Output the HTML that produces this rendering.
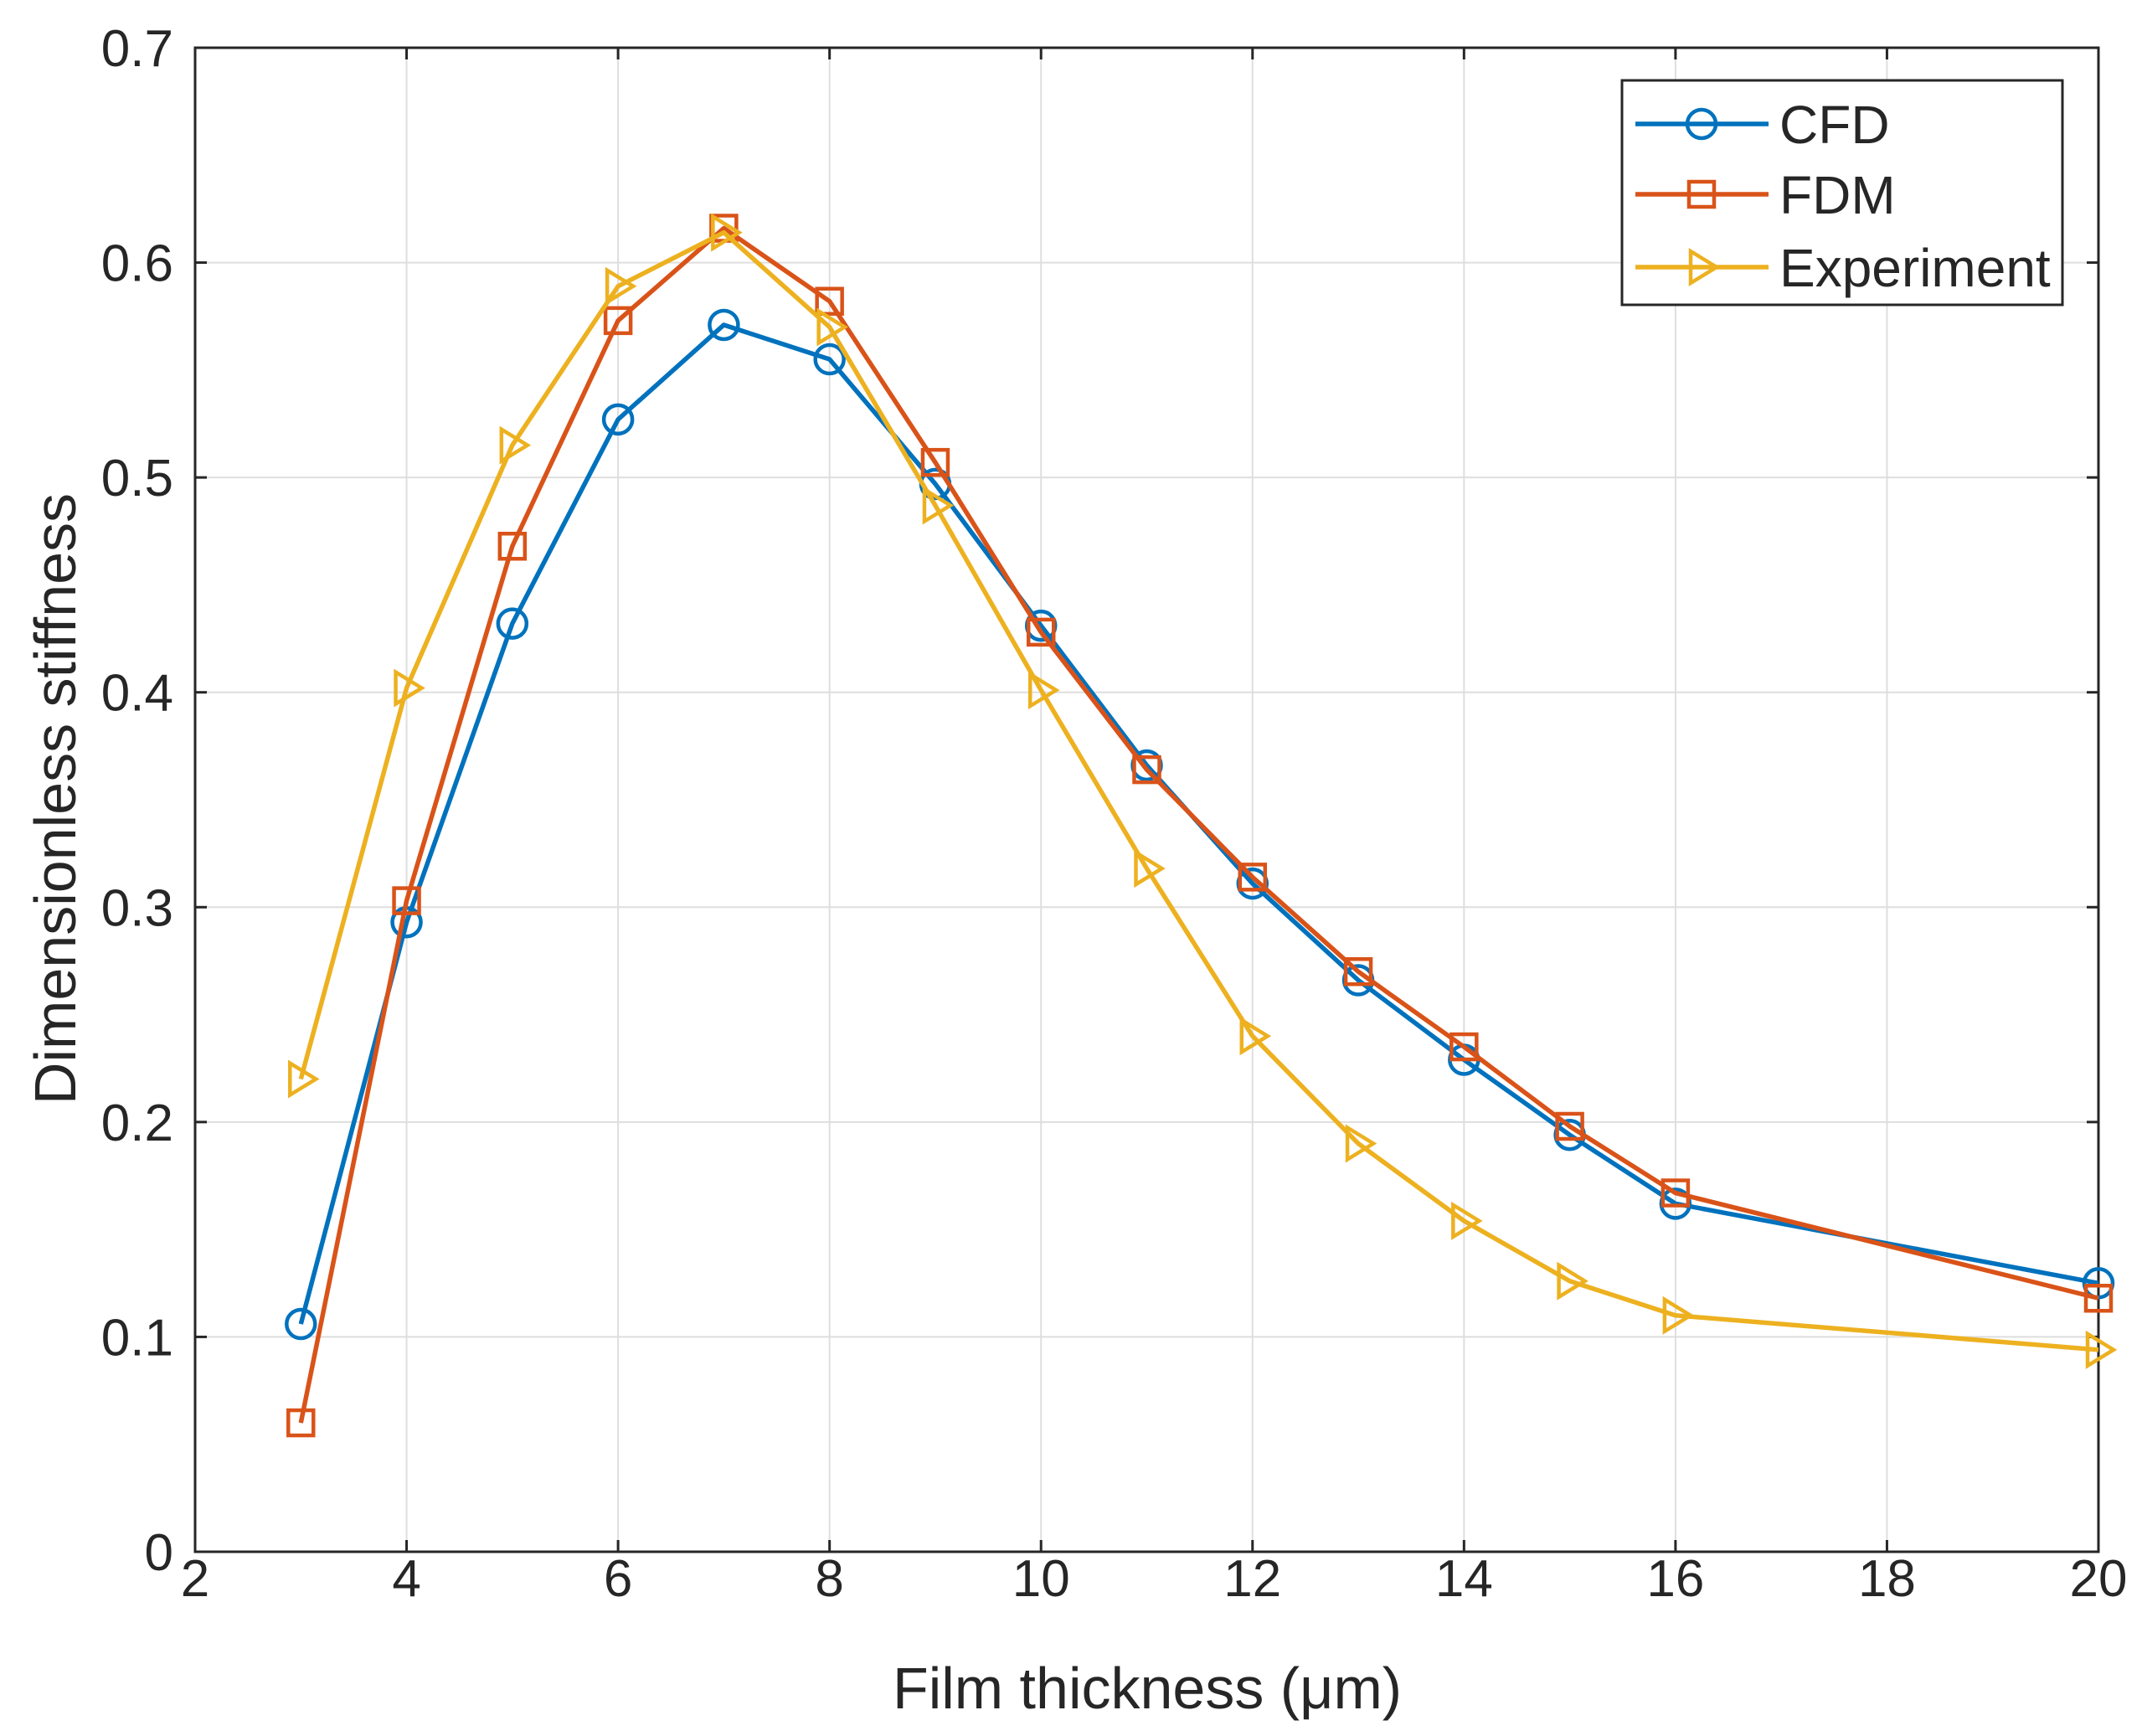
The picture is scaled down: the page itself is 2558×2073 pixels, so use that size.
<!DOCTYPE html>
<html><head><meta charset="utf-8"><style>body{margin:0;background:#fff}svg{display:block}text{font-family:"Liberation Sans",Arial,sans-serif;fill:#262626}</style></head>
<body>
<svg id="chart" width="2558" height="2073" xmlns="http://www.w3.org/2000/svg"></svg>
<script>
const xs=[3,4,5,6,7,8,9,10,11,12,13,14,15,16,20];
const cfd=[0.106,0.293,0.432,0.527,0.571,0.555,0.497,0.431,0.366,0.311,0.266,0.229,0.194,0.162,0.125];
const fdm=[0.06,0.303,0.468,0.573,0.616,0.582,0.507,0.428,0.364,0.314,0.27,0.235,0.198,0.167,0.118];
const exp=[0.22,0.402,0.515,0.589,0.614,0.57,0.487,0.401,0.318,0.24,0.19,0.154,0.126,0.11,0.094];
const xTicks=[2,4,6,8,10,12,14,16,18,20];
const yTicks=[0,0.1,0.2,0.3,0.4,0.5,0.6,0.7];
const L=233,R=2506,T=57,B=1853;
const X=v=>L+(v-2)/18*(R-L), Y=v=>B-v/0.7*(B-T);
const svg=document.getElementById('chart');const NS='http://www.w3.org/2000/svg';
function el(t,a,p){const e=document.createElementNS(NS,t);for(const k in a)e.setAttribute(k,a[k]);(p||svg).appendChild(e);return e;}
xTicks.forEach(t=>{const g=el('line',{x1:X(t),x2:X(t),y1:T,y2:B,stroke:'#dedede','stroke-width':2});

el('line',{x1:X(t),x2:X(t),y1:B,y2:B-14,stroke:'#262626','stroke-width':3});
el('line',{x1:X(t),x2:X(t),y1:T,y2:T+14,stroke:'#262626','stroke-width':3});
const tx=el('text',{x:X(t),y:1906,'font-size':62,'text-anchor':'middle'});tx.textContent=t;
});
yTicks.forEach(t=>{const g=el('line',{x1:L,x2:R,y1:Y(t),y2:Y(t),stroke:'#dedede','stroke-width':2});

el('line',{x1:L,x2:L+14,y1:Y(t),y2:Y(t),stroke:'#262626','stroke-width':3});
el('line',{x1:R,x2:R-14,y1:Y(t),y2:Y(t),stroke:'#262626','stroke-width':3});
const tx=el('text',{x:207,y:Y(t)+22,'font-size':62,'text-anchor':'end'});tx.textContent=t===0?'0':t.toFixed(1);
});
const box=el('rect',{x:L,y:T,width:R-L,height:B-T,fill:'none',stroke:'#262626','stroke-width':3});

function marker(type,cx,cy,c,p){const r=17;let m;
if(type==='o')m=el('circle',{cx,cy,r,fill:'none',stroke:c,'stroke-width':4.5},p);
else if(type==='s')m=el('rect',{x:cx-r+2,y:cy-r+2,width:2*r-4,height:2*r-4,fill:'none',stroke:c,'stroke-width':4.5},p);
else m=el('polygon',{points:`${cx-13},${cy-19} ${cx+18},${cy} ${cx-13},${cy+19}`,fill:'none',stroke:c,'stroke-width':4.5},p);
return m;}
const series=[['cfd',cfd,'#0072BD','o'],['fdm',fdm,'#D95319','s'],['experiment',exp,'#EDB120','t']];
series.forEach(([n,d,c,m])=>{const g=el('g',{});

const pl=el('polyline',{points:xs.map((x,i)=>X(x)+','+Y(d[i])).join(' '),fill:'none',stroke:c,'stroke-width':5.5,'stroke-linejoin':'round'},g);

xs.forEach((x,i)=>{const mk=marker(m,X(x),Y(d[i]),c,g);
});});
const lg=el('g',{});
el('rect',{x:1937,y:96,width:526,height:268,fill:'#fff',stroke:'#262626','stroke-width':3},lg);
const labels=['CFD','FDM','Experiment'];const ly=[148,232,319];
series.forEach(([n,d,c,m],i)=>{const ent=el('g',{},lg);

el('line',{x1:1953,x2:2112,y1:ly[i],y2:ly[i],stroke:c,'stroke-width':5.5},ent);
marker(m,2032,ly[i],c,ent);
const t=el('text',{x:2125,y:ly[i]+23,'font-size':64},ent);t.textContent=labels[i];});
const xl=el('text',{x:1370,y:2040,'font-size':70,'text-anchor':'middle'});xl.textContent='Film thickness (μm)';

const yl=el('text',{x:0,y:0,'font-size':70,'text-anchor':'middle',transform:'translate(90,954) rotate(-90)'});yl.textContent='Dimensionless stiffness';

</script>
</body></html>
